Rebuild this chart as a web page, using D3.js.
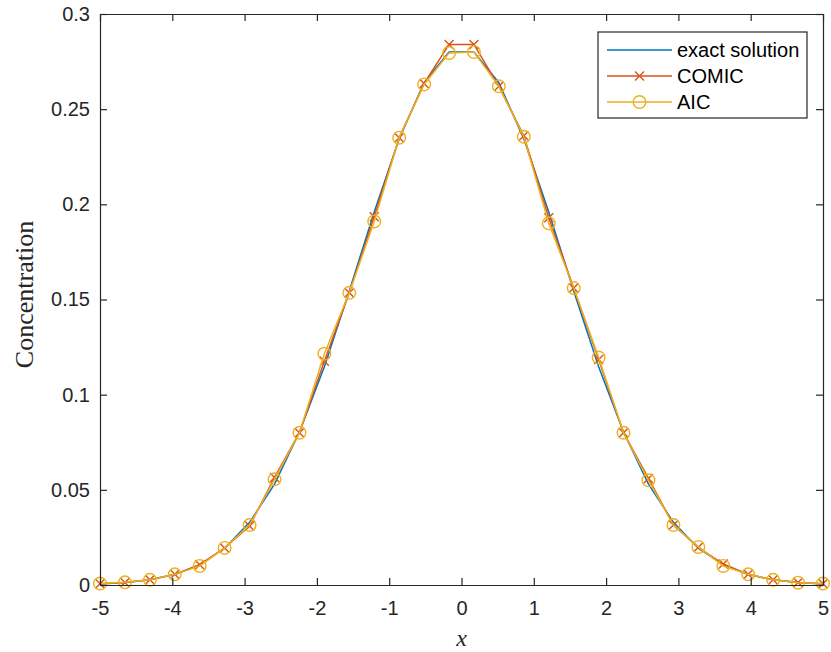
<!DOCTYPE html>
<html>
<head>
<meta charset="utf-8">
<script src="https://cdn.jsdelivr.net/npm/d3@7"></script>
<style>
  body { margin: 0; background: #fff; }
</style>
</head>
<body>
<script>
let w = 831;
let h = 652;
let margin = {left: 100, right: 8, top: 14, bottom: 67};

// grid points
let xs = [-5, -4.655, -4.310, -3.966, -3.621, -3.276, -2.931, -2.586, -2.241, -1.897,
          -1.552, -1.207, -0.862, -0.517, -0.172, 0.172, 0.517, 0.862, 1.207, 1.552,
          1.897, 2.241, 2.586, 2.931, 3.276, 3.621, 3.966, 4.310, 4.655, 5];

let exactVals = [0.0005, 0.0013, 0.0027, 0.0055, 0.0106, 0.0193, 0.0329, 0.0530, 0.0804, 0.1147,
                 0.1545, 0.1960, 0.2343, 0.2639, 0.2800, 0.2800, 0.2639, 0.2343, 0.1960, 0.1545,
                 0.1147, 0.0804, 0.0530, 0.0329, 0.0193, 0.0106, 0.0055, 0.0027, 0.0013, 0.0005];

let comicVals = [0.0006, 0.0013, 0.0028, 0.0056, 0.0107, 0.0195, 0.0310, 0.0565, 0.0800, 0.1175,
                 0.1535, 0.1935, 0.2350, 0.2635, 0.2840, 0.2840, 0.2620, 0.2360, 0.1930, 0.1560,
                 0.1185, 0.0800, 0.0560, 0.0315, 0.0198, 0.0110, 0.0056, 0.0027, 0.0013, 0.0006];

let aicVals = [0.0008, 0.0014, 0.0027, 0.0056, 0.0100, 0.0195, 0.0315, 0.0555, 0.0800, 0.1215,
               0.1535, 0.1910, 0.2350, 0.2630, 0.2795, 0.2800, 0.2620, 0.2355, 0.1900, 0.1560,
               0.1195, 0.0800, 0.0550, 0.0315, 0.0200, 0.0100, 0.0056, 0.0027, 0.0012, 0.0008];

let xTicks = [-5, -4, -3, -2, -1, 0, 1, 2, 3, 4, 5];
let yTicks = [0, 0.05, 0.1, 0.15, 0.2, 0.25, 0.3];

let seriesNames = ['exact solution', 'COMIC', 'AIC'];
let colors = ['#0072BD', '#D95319', '#EDB120'];

let series = [
  {name: seriesNames[0], vals: exactVals, color: colors[0], marker: 'none'},
  {name: seriesNames[1], vals: comicVals, color: colors[1], marker: 'x'},
  {name: seriesNames[2], vals: aicVals, color: colors[2], marker: 'o'}
];

let xScale = d3.scaleLinear().domain([-5, 5]).range([margin.left, w - margin.right]);
let yScale = d3.scaleLinear().domain([0, 0.3]).range([h - margin.bottom, margin.top]);

let svg = d3.select('body')
  .append('svg')
  .attr('width', w)
  .attr('height', h);

let axisColor = '#262626';
let fontTicks = '"Liberation Sans", Arial, sans-serif';

// lines
let line = d3.line()
  .x((d) => { return xScale(d[0]); })
  .y((d) => { return yScale(d[1]); });

let drawMarker = (g, kind, color, cx, cy) => {
  if (kind === 'x') {
    let s = 4.5;
    g.append('path')
      .attr('d', `M${cx - s},${cy - s}L${cx + s},${cy + s}M${cx - s},${cy + s}L${cx + s},${cy - s}`)
      .attr('stroke', color)
      .attr('stroke-width', 1.4)
      .attr('fill', 'none');
  } else if (kind === 'o') {
    g.append('circle')
      .attr('cx', cx)
      .attr('cy', cy)
      .attr('r', 6.3)
      .attr('stroke', color)
      .attr('stroke-width', 1.4)
      .attr('fill', 'none');
  }
};

series.forEach((s) => {
  let pts = xs.map((x, i) => { return [x, s.vals[i]]; });
  svg.append('path')
    .datum(pts)
    .attr('d', line)
    .attr('fill', 'none')
    .attr('stroke', s.color)
    .attr('stroke-width', 1.5);
  let g = svg.append('g');
  pts.forEach((p) => {
    drawMarker(g, s.marker, s.color, xScale(p[0]), yScale(p[1]));
  });
});

// axes box
let x0 = xScale(-5), x1 = xScale(5), y0 = yScale(0), y1 = yScale(0.3);
let tickLen = 7;

let bottomAxis = d3.axisBottom(xScale).tickValues(xTicks).tickSizeInner(-tickLen).tickSizeOuter(0)
  .tickPadding(16).tickFormat((d) => { return String(d); });
let topAxis = d3.axisTop(xScale).tickValues(xTicks).tickSizeInner(-tickLen).tickSizeOuter(0)
  .tickFormat('');
let leftAxis = d3.axisLeft(yScale).tickValues(yTicks).tickSizeInner(-tickLen).tickSizeOuter(0)
  .tickPadding(10).tickFormat((d) => { return d === 0 ? '0' : String(+d.toFixed(2)); });
let rightAxis = d3.axisRight(yScale).tickValues(yTicks).tickSizeInner(-tickLen).tickSizeOuter(0)
  .tickFormat('');

let styleAxis = (g) => {
  g.selectAll('path.domain').attr('stroke', axisColor).attr('stroke-width', 1.2);
  g.selectAll('line').attr('stroke', axisColor).attr('stroke-width', 1.2);
  g.selectAll('text')
    .attr('fill', axisColor)
    .style('font-family', fontTicks)
    .style('font-size', '20px');
};

svg.append('g').attr('transform', `translate(0,${y0})`).call(bottomAxis).call(styleAxis);
svg.append('g').attr('transform', `translate(0,${y1})`).call(topAxis).call(styleAxis);
svg.append('g').attr('transform', `translate(${x0},0)`).call(leftAxis).call(styleAxis);
svg.append('g').attr('transform', `translate(${x1},0)`).call(rightAxis).call(styleAxis);

// axis labels
svg.append('text')
  .attr('x', (x0 + x1) / 2)
  .attr('y', h - 6)
  .attr('text-anchor', 'middle')
  .style('font-family', '"Liberation Serif", "DejaVu Serif", serif')
  .style('font-style', 'italic')
  .style('font-size', '24px')
  .attr('fill', axisColor)
  .text('x');

svg.append('text')
  .attr('transform', `translate(33,${(y0 + y1) / 2 - 5}) rotate(-90)`)
  .attr('text-anchor', 'middle')
  .style('font-family', '"Liberation Serif", "DejaVu Serif", serif')
  .style('font-size', '26px')
  .attr('fill', axisColor)
  .text('Concentration');

// legend
let lg = svg.append('g');
let lx = 598, ly = 32, lw = 209, lh = 86;
lg.append('rect')
  .attr('x', lx).attr('y', ly).attr('width', lw).attr('height', lh)
  .attr('fill', '#fff')
  .attr('stroke', axisColor)
  .attr('stroke-width', 1.2);

series.forEach((s, i) => {
  let yy = ly + 18 + i * 26;
  lg.append('line')
    .attr('x1', lx + 9).attr('x2', lx + 74)
    .attr('y1', yy).attr('y2', yy)
    .attr('stroke', s.color)
    .attr('stroke-width', 1.5);
  drawMarker(lg, s.marker, s.color, lx + 41.5, yy);
  lg.append('text')
    .attr('x', lx + 79)
    .attr('y', yy + 7)
    .style('font-family', fontTicks)
    .style('font-size', '20px')
    .attr('fill', '#000')
    .text(s.name);
});
</script>
</body>
</html>
